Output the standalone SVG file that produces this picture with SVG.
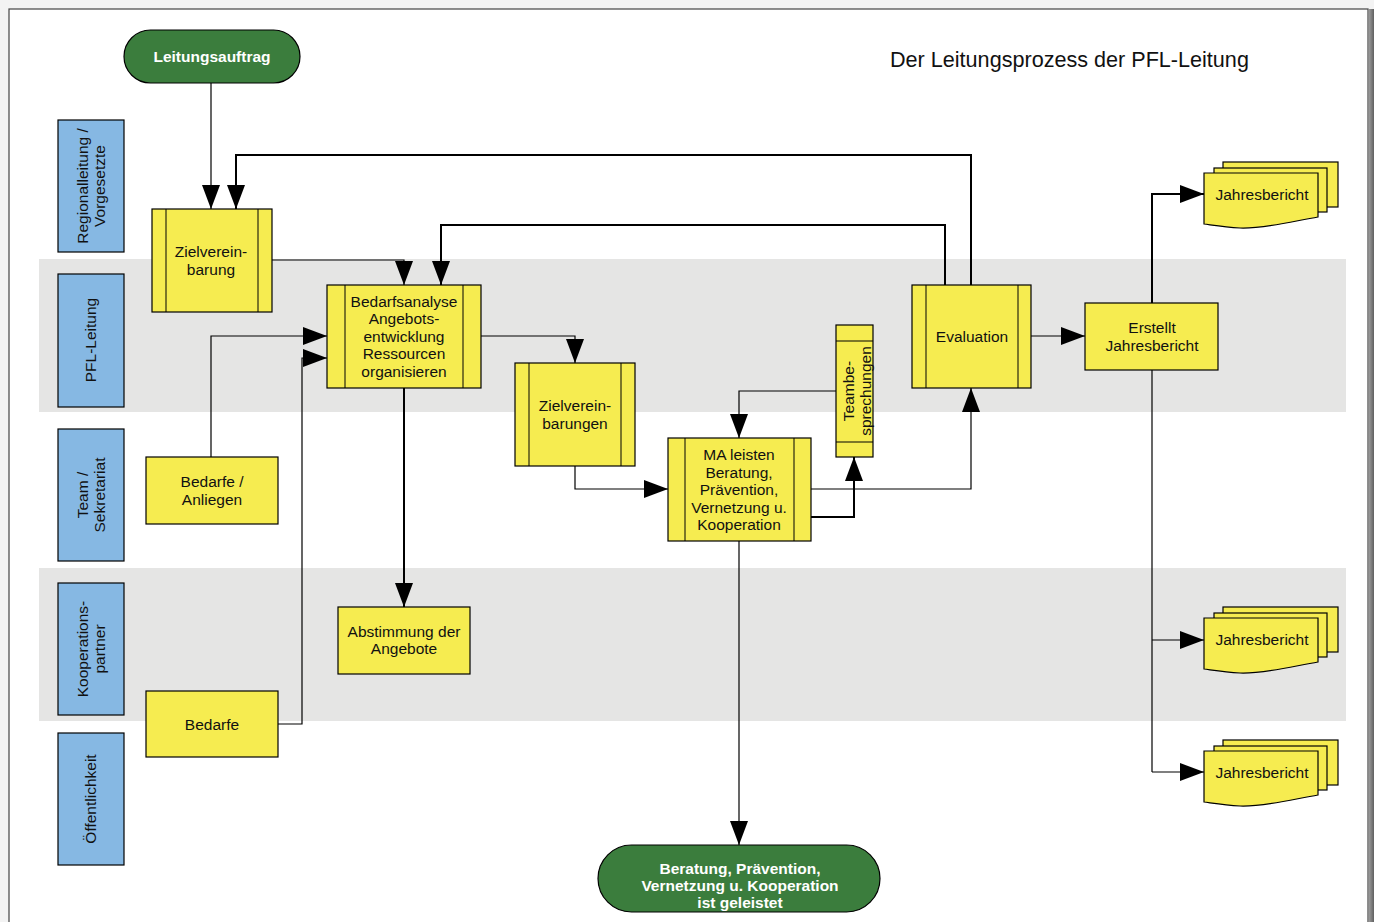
<svg xmlns="http://www.w3.org/2000/svg" width="1374" height="922" viewBox="0 0 1374 922">
  <style>
    .lane { fill: #e5e5e4; }
    .role { fill: #86b8e3; stroke: #000; stroke-width: 1.2; }
    .box { fill: #f6ec50; stroke: #000; stroke-width: 1.2; }
    .sub { fill: none; stroke: #000; stroke-width: 1; }
    .term { fill: #3b7d3d; stroke: #000; stroke-width: 1.2; }
    .t { font-family: "Liberation Sans", Arial, sans-serif; font-size: 15.5px; fill: #111; text-anchor: middle; }
    .tw { font-family: "Liberation Sans", Arial, sans-serif; font-size: 15.5px; font-weight: bold; fill: #fff; text-anchor: middle; }
    .title { font-family: "Liberation Sans", Arial, sans-serif; font-size: 21.6px; fill: #111; }
    .c { fill: none; stroke: #000; stroke-width: 1.2; marker-end: url(#ah); }
    .cb { fill: none; stroke: #000; stroke-width: 2; marker-end: url(#ah); }
    .cn { fill: none; stroke: #000; stroke-width: 1.2; }
  </style>
  <defs>
    <marker id="ah" markerUnits="userSpaceOnUse" markerWidth="24" markerHeight="18" viewBox="0 0 24 18" refX="24" refY="9" orient="auto">
      <path d="M0,0 L24,9 L0,18 Z" fill="#000"/>
    </marker>
    <linearGradient id="shade" x1="0" y1="0" x2="1" y2="0">
      <stop offset="0" stop-color="#9a9a9a"/>
      <stop offset="1" stop-color="#606060"/>
    </linearGradient>
    <!-- stacked document shape, front sheet at origin -->
    <g id="docs">
      <rect x="19" y="-11" width="115" height="45" class="box"/>
      <rect x="10" y="-5" width="113" height="44" class="box"/>
      <path d="M0,0 H114 V44 C90,48 60,56 36,55 C20,54 8,52 0,51 Z" class="box"/>
      <text x="58" y="27" class="t">Jahresbericht</text>
    </g>
  </defs>

  <!-- page -->
  <rect x="0" y="0" width="1374" height="922" fill="#f3f3f3"/>
  <rect x="9" y="9" width="1359" height="920" fill="#fff" stroke="#444" stroke-width="1.2"/>
  <rect x="1369" y="9" width="5" height="913" fill="url(#shade)"/>

  <!-- swimlane bands -->
  <rect x="39" y="259" width="1307" height="153" class="lane"/>
  <rect x="39" y="568" width="1307" height="153" class="lane"/>

  <text x="890" y="67" class="title">Der Leitungsprozess der PFL-Leitung</text>

  <!-- role labels -->
  <g id="role-regional">
    <rect x="58" y="120" width="66" height="132" class="role"/>
    <g transform="translate(91,186) rotate(-90)">
      <text x="0" y="-3" class="t">Regionalleitung /</text>
      <text x="0" y="14" class="t">Vorgesetzte</text>
    </g>
  </g>
  <g id="role-pfl">
    <rect x="58" y="274" width="66" height="133" class="role"/>
    <g transform="translate(91,340) rotate(-90)">
      <text x="0" y="5" class="t">PFL-Leitung</text>
    </g>
  </g>
  <g id="role-team">
    <rect x="58" y="429" width="66" height="132" class="role"/>
    <g transform="translate(91,495) rotate(-90)">
      <text x="0" y="-3" class="t">Team /</text>
      <text x="0" y="14" class="t">Sekretariat</text>
    </g>
  </g>
  <g id="role-koop">
    <rect x="58" y="583" width="66" height="132" class="role"/>
    <g transform="translate(91,649) rotate(-90)">
      <text x="0" y="-3" class="t">Kooperations-</text>
      <text x="0" y="14" class="t">partner</text>
    </g>
  </g>
  <g id="role-public">
    <rect x="58" y="733" width="66" height="132" class="role"/>
    <g transform="translate(91,799) rotate(-90)">
      <text x="0" y="5" class="t">Öffentlichkeit</text>
    </g>
  </g>

  <!-- connectors -->
  <g id="connectors">
    <path d="M211,83 V209" class="c"/>
    <path d="M971,285 V155 H236 V209" class="cb"/>
    <path d="M945,285 V225 H441 V285" class="cb"/>
    <path d="M272,260 H404 V285" class="c"/>
    <path d="M211,457 V336 H327" class="c"/>
    <path d="M278,724 H302 V358 H327" class="c"/>
    <path d="M404,388 V607" class="cb"/>
    <path d="M481,336 H575 V363" class="c"/>
    <path d="M575,466 V489 H668" class="c"/>
    <path d="M836,391 H739 V438" class="c"/>
    <path d="M811,517 H854 V457" class="cb"/>
    <path d="M811,489 H971 V388" class="c"/>
    <path d="M739,541 V845" class="c"/>
    <path d="M1031,336 H1085" class="c"/>
    <path d="M1152,303 V194 H1204" class="cb"/>
    <path d="M1152,370 V772" class="cn"/>
    <path d="M1152,640 H1204" class="c"/>
    <path d="M1152,772 H1204" class="c"/>
  </g>

  <!-- nodes -->
  <g id="start">
    <rect x="124" y="30" width="176" height="53" rx="26.5" class="term"/>
    <text x="212" y="62" class="tw">Leitungsauftrag</text>
  </g>

  <g id="zielvereinbarung">
    <rect x="152" y="209" width="120" height="103" class="box"/>
    <path d="M166,209 V312 M258,209 V312" class="sub"/>
    <text x="211" y="257" class="t">Zielverein-</text>
    <text x="211" y="275" class="t">barung</text>
  </g>

  <g id="bedarfsanalyse">
    <rect x="327" y="285" width="154" height="103" class="box"/>
    <path d="M345,285 V388 M463,285 V388" class="sub"/>
    <text x="404" y="307" class="t">Bedarfsanalyse</text>
    <text x="404" y="324" class="t">Angebots-</text>
    <text x="404" y="342" class="t">entwicklung</text>
    <text x="404" y="359" class="t">Ressourcen</text>
    <text x="404" y="377" class="t">organisieren</text>
  </g>

  <g id="zielvereinbarungen">
    <rect x="515" y="363" width="120" height="103" class="box"/>
    <path d="M529,363 V466 M621,363 V466" class="sub"/>
    <text x="575" y="411" class="t">Zielverein-</text>
    <text x="575" y="429" class="t">barungen</text>
  </g>

  <g id="ma-leisten">
    <rect x="668" y="438" width="143" height="103" class="box"/>
    <path d="M685,438 V541 M794,438 V541" class="sub"/>
    <text x="739" y="460" class="t">MA leisten</text>
    <text x="739" y="478" class="t">Beratung,</text>
    <text x="739" y="495" class="t">Prävention,</text>
    <text x="739" y="513" class="t">Vernetzung u.</text>
    <text x="739" y="530" class="t">Kooperation</text>
  </g>

  <g id="teambesprechungen">
    <rect x="836" y="325" width="37" height="132" class="box"/>
    <path d="M836,341 H873 M836,442 H873" class="sub"/>
    <g transform="translate(855,391) rotate(-90)">
      <text x="0" y="-1" class="t">Teambe-</text>
      <text x="0" y="16" class="t">sprechungen</text>
    </g>
  </g>

  <g id="evaluation">
    <rect x="912" y="285" width="119" height="103" class="box"/>
    <path d="M926,285 V388 M1018,285 V388" class="sub"/>
    <text x="972" y="342" class="t">Evaluation</text>
  </g>

  <g id="erstellt">
    <rect x="1085" y="303" width="133" height="67" class="box"/>
    <text x="1152" y="333" class="t">Erstellt</text>
    <text x="1152" y="351" class="t">Jahresbericht</text>
  </g>

  <g id="jahresbericht-1"><use href="#docs" x="1204" y="173"/></g>
  <g id="jahresbericht-2"><use href="#docs" x="1204" y="618"/></g>
  <g id="jahresbericht-3"><use href="#docs" x="1204" y="751"/></g>

  <g id="bedarfe-anliegen">
    <rect x="146" y="457" width="132" height="67" class="box"/>
    <text x="212" y="487" class="t">Bedarfe /</text>
    <text x="212" y="505" class="t">Anliegen</text>
  </g>

  <g id="abstimmung">
    <rect x="338" y="607" width="132" height="67" class="box"/>
    <text x="404" y="637" class="t">Abstimmung der</text>
    <text x="404" y="654" class="t">Angebote</text>
  </g>

  <g id="bedarfe">
    <rect x="146" y="691" width="132" height="66" class="box"/>
    <text x="212" y="730" class="t">Bedarfe</text>
  </g>

  <g id="end">
    <rect x="598" y="845" width="282" height="67" rx="33.5" class="term"/>
    <text x="740" y="874" class="tw">Beratung, Prävention,</text>
    <text x="740" y="891" class="tw">Vernetzung u. Kooperation</text>
    <text x="740" y="908" class="tw">ist geleistet</text>
  </g>
</svg>
